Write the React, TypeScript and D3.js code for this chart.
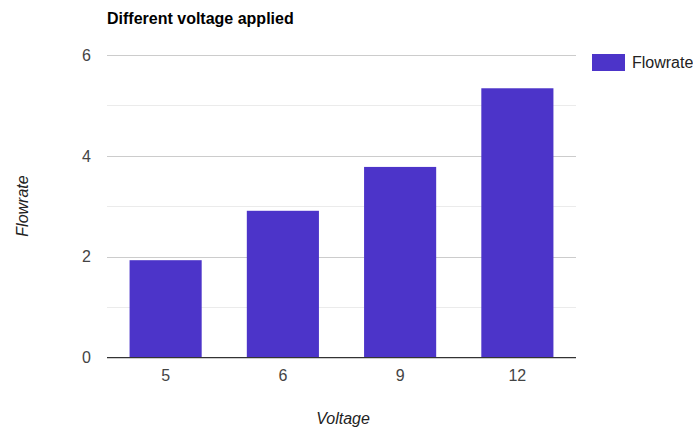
import React from "react";
import * as d3 from "d3";

// Flowrate measured at each applied voltage
const voltages = ["5", "6", "9", "12"];
const flowrates = [1.93, 2.91, 3.78, 5.34];
const yMajorTicks = [0, 2, 4, 6];
const yMinorTicks = [1, 3, 5];

const W = 693;
const H = 428;
const plot = { left: 107, right: 576, top: 55, bottom: 357.5 };
const FONT = "Arial, 'Liberation Sans', sans-serif";
const BAR = "#4c34c9";

export default function App() {
  const x = d3
    .scaleBand<string>()
    .domain(voltages)
    .range([plot.left, plot.right])
    .paddingInner(0.385)
    .paddingOuter(0.1925);
  const y = d3.scaleLinear().domain([0, 6]).range([plot.bottom, plot.top]);

  return (
    <svg
      width={W}
      height={H}
      style={{ position: "absolute", left: 0, top: 0, background: "#fff" }}
      fontFamily={FONT}
    >
      <text x={107} y={24} fontSize={16} fontWeight="bold" fill="#000">
        Different voltage applied
      </text>

      {yMinorTicks.map((t) => (
        <line
          key={"m" + t}
          x1={plot.left}
          x2={plot.right}
          y1={Math.round(y(t)) + 0.5}
          y2={Math.round(y(t)) + 0.5}
          stroke="#ebebeb"
        />
      ))}
      {yMajorTicks.map((t) => (
        <line
          key={"g" + t}
          x1={plot.left}
          x2={plot.right}
          y1={Math.round(y(t)) + 0.5}
          y2={Math.round(y(t)) + 0.5}
          stroke="#cccccc"
        />
      ))}
      {yMajorTicks.map((t) => (
        <text
          key={"t" + t}
          x={91}
          y={y(t)}
          dy="0.36em"
          textAnchor="end"
          fontSize={16}
          fill="#444"
        >
          {t}
        </text>
      ))}

      {voltages.map((v, i) => (
        <rect
          key={v}
          x={x(v)}
          y={y(flowrates[i])}
          width={x.bandwidth()}
          height={y(0) - y(flowrates[i])}
          fill={BAR}
        />
      ))}

      <line
        x1={plot.left}
        x2={plot.right}
        y1={plot.bottom}
        y2={plot.bottom}
        stroke="#333"
        strokeWidth={1.2}
      />

      {voltages.map((v) => (
        <text
          key={"x" + v}
          x={(x(v) as number) + x.bandwidth() / 2}
          y={381}
          textAnchor="middle"
          fontSize={16}
          fill="#444"
        >
          {v}
        </text>
      ))}

      <text
        x={343}
        y={424}
        textAnchor="middle"
        fontSize={16}
        fontStyle="italic"
        fill="#222"
      >
        Voltage
      </text>
      <text
        transform={`translate(28,206) rotate(-90)`}
        textAnchor="middle"
        fontSize={16}
        fontStyle="italic"
        fill="#222"
      >
        Flowrate
      </text>

      <rect x={592} y={54} width={33} height={17} fill={BAR} />
      <text x={632} y={68} fontSize={16} fill="#222">
        Flowrate
      </text>
    </svg>
  );
}
